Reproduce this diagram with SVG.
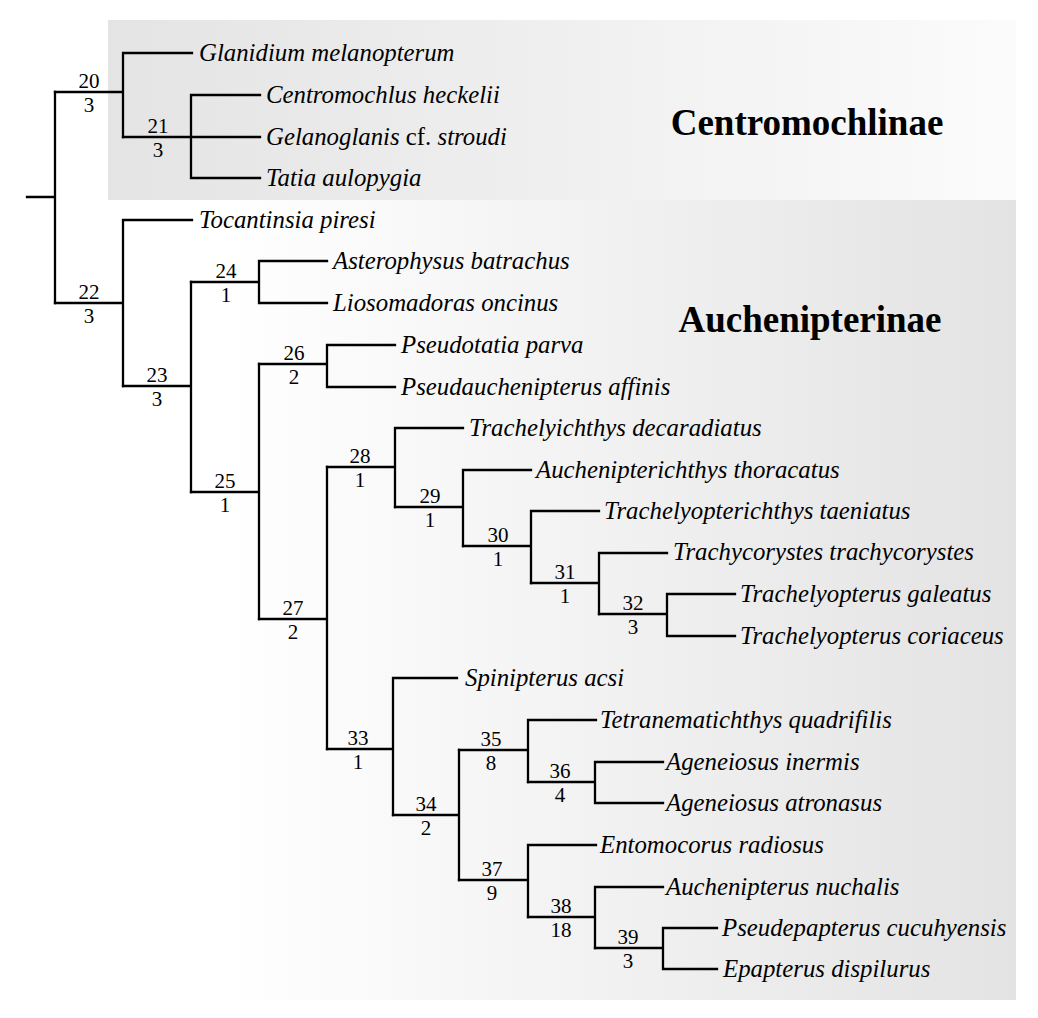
<svg xmlns="http://www.w3.org/2000/svg" width="1038" height="1018" viewBox="0 0 1038 1018">
<defs>
<linearGradient id="gTop" x1="0" y1="0" x2="1" y2="0">
<stop offset="0" stop-color="#e4e4e4"/>
<stop offset="1" stop-color="#fbfbfb"/>
</linearGradient>
<linearGradient id="gBot" x1="0" y1="0" x2="1" y2="0">
<stop offset="0" stop-color="#ffffff"/>
<stop offset="0.13" stop-color="#ffffff"/>
<stop offset="1" stop-color="#e3e3e3"/>
</linearGradient>
<style>
.br{fill:none;stroke:#000;stroke-width:2.3;stroke-linecap:square}
.leaf{font-family:"Liberation Serif","Times New Roman",serif;font-style:italic;font-size:24.8px;fill:#000}
.num{font-family:"Liberation Serif","Times New Roman",serif;font-size:21px;fill:#000;text-anchor:middle}
.clade{font-family:"Liberation Serif","Times New Roman",serif;font-weight:bold;font-size:37px;fill:#000;text-anchor:middle}
.rom{font-style:normal}
</style>
</defs>
<rect width="1038" height="1018" fill="#fff"/>
<g id="clade-centromochlinae">
<rect x="108" y="20" width="908" height="180" fill="url(#gTop)"/>
<text class="clade" x="807" y="135">Centromochlinae</text>
</g>
<g id="clade-auchenipterinae">
<rect x="108" y="200" width="908" height="800" fill="url(#gBot)"/>
<text class="clade" x="810" y="332">Auchenipterinae</text>
</g>
<g id="connectors">
<path class="br" d="M27 197H55M55 92V303"/>
<path class="br" d="M55 92H123M123 53V137M123 53H192"/>
<path class="br" d="M123 137H191M191 95V178M191 95H260M191 137H260M191 178H260"/>
<path class="br" d="M55 303H123M123 220V386M123 220H192"/>
<path class="br" d="M123 386H191M191 282V492"/>
<path class="br" d="M191 282H259M259 261V303M259 261H327M259 303H327"/>
<path class="br" d="M191 492H259M259 364V619"/>
<path class="br" d="M259 364H327M327 345V387M327 345H395M327 387H395"/>
<path class="br" d="M259 619H327M327 467V749"/>
<path class="br" d="M327 467H395M395 428V507M395 428H463"/>
<path class="br" d="M395 507H463M463 470V546M463 470H531"/>
<path class="br" d="M463 546H531M531 511V583M531 511H599"/>
<path class="br" d="M531 583H599M599 553V614M599 553H667"/>
<path class="br" d="M599 614H667M667 594V636M667 594H735M667 636H735"/>
<path class="br" d="M327 749H393M393 678V815M393 678H457"/>
<path class="br" d="M393 815H459M459 750V880"/>
<path class="br" d="M459 750H528M528 720V782M528 720H596"/>
<path class="br" d="M528 782H595M595 762V803M595 762H663M595 803H663"/>
<path class="br" d="M459 880H528M528 845V917M528 845H596"/>
<path class="br" d="M528 917H595M595 887V948M595 887H663"/>
<path class="br" d="M595 948H663M663 928V969M663 928H717M663 969H717"/>
</g>
<g id="node-20"><text class="num" x="89" y="88">20</text><text class="num" x="89" y="112">3</text></g>
<g id="node-21"><text class="num" x="158" y="133">21</text><text class="num" x="158" y="157">3</text></g>
<g id="node-22"><text class="num" x="89" y="299">22</text><text class="num" x="89" y="323">3</text></g>
<g id="node-23"><text class="num" x="157" y="382">23</text><text class="num" x="157" y="406">3</text></g>
<g id="node-24"><text class="num" x="226" y="278">24</text><text class="num" x="226" y="302">1</text></g>
<g id="node-25"><text class="num" x="225" y="488">25</text><text class="num" x="225" y="512">1</text></g>
<g id="node-26"><text class="num" x="294" y="360">26</text><text class="num" x="294" y="384">2</text></g>
<g id="node-27"><text class="num" x="293" y="615">27</text><text class="num" x="293" y="639">2</text></g>
<g id="node-28"><text class="num" x="360" y="463">28</text><text class="num" x="360" y="487">1</text></g>
<g id="node-29"><text class="num" x="430" y="503">29</text><text class="num" x="430" y="527">1</text></g>
<g id="node-30"><text class="num" x="498" y="542">30</text><text class="num" x="498" y="566">1</text></g>
<g id="node-31"><text class="num" x="565" y="579">31</text><text class="num" x="565" y="603">1</text></g>
<g id="node-32"><text class="num" x="633" y="610">32</text><text class="num" x="633" y="634">3</text></g>
<g id="node-33"><text class="num" x="358" y="745">33</text><text class="num" x="358" y="769">1</text></g>
<g id="node-34"><text class="num" x="426" y="811">34</text><text class="num" x="426" y="835">2</text></g>
<g id="node-35"><text class="num" x="491" y="746">35</text><text class="num" x="491" y="770">8</text></g>
<g id="node-36"><text class="num" x="560" y="778">36</text><text class="num" x="560" y="802">4</text></g>
<g id="node-37"><text class="num" x="492" y="876">37</text><text class="num" x="492" y="900">9</text></g>
<g id="node-38"><text class="num" x="561" y="913">38</text><text class="num" x="561" y="937">18</text></g>
<g id="node-39"><text class="num" x="628" y="944">39</text><text class="num" x="628" y="968">3</text></g>
<g id="leaf-glanidium"><text class="leaf" x="199" y="61">Glanidium melanopterum</text></g>
<g id="leaf-centromochlus"><text class="leaf" x="266" y="103">Centromochlus heckelii</text></g>
<g id="leaf-gelanoglanis"><text class="leaf" x="266" y="145">Gelanoglanis <tspan class="rom">cf.</tspan> stroudi</text></g>
<g id="leaf-tatia"><text class="leaf" x="266" y="186">Tatia aulopygia</text></g>
<g id="leaf-tocantinsia"><text class="leaf" x="199" y="228">Tocantinsia piresi</text></g>
<g id="leaf-asterophysus"><text class="leaf" x="333" y="269">Asterophysus batrachus</text></g>
<g id="leaf-liosomadoras"><text class="leaf" x="333" y="311">Liosomadoras oncinus</text></g>
<g id="leaf-pseudotatia"><text class="leaf" x="401" y="353">Pseudotatia parva</text></g>
<g id="leaf-pseudauchenipterus"><text class="leaf" x="401" y="395">Pseudauchenipterus affinis</text></g>
<g id="leaf-trachelyichthys"><text class="leaf" x="469" y="436">Trachelyichthys decaradiatus</text></g>
<g id="leaf-auchenipterichthys"><text class="leaf" x="536" y="478">Auchenipterichthys thoracatus</text></g>
<g id="leaf-trachelyopterichthys"><text class="leaf" x="604" y="519">Trachelyopterichthys taeniatus</text></g>
<g id="leaf-trachycorystes"><text class="leaf" x="673" y="560">Trachycorystes trachycorystes</text></g>
<g id="leaf-t-galeatus"><text class="leaf" x="740" y="602">Trachelyopterus galeatus</text></g>
<g id="leaf-t-coriaceus"><text class="leaf" x="740" y="644">Trachelyopterus coriaceus</text></g>
<g id="leaf-spinipterus"><text class="leaf" x="465" y="686">Spinipterus acsi</text></g>
<g id="leaf-tetranematichthys"><text class="leaf" x="600" y="728">Tetranematichthys quadrifilis</text></g>
<g id="leaf-a-inermis"><text class="leaf" x="666" y="770">Ageneiosus inermis</text></g>
<g id="leaf-a-atronasus"><text class="leaf" x="666" y="811">Ageneiosus atronasus</text></g>
<g id="leaf-entomocorus"><text class="leaf" x="600" y="853">Entomocorus radiosus</text></g>
<g id="leaf-auchenipterus"><text class="leaf" x="666" y="895">Auchenipterus nuchalis</text></g>
<g id="leaf-pseudepapterus"><text class="leaf" x="722" y="936">Pseudepapterus cucuhyensis</text></g>
<g id="leaf-epapterus"><text class="leaf" x="723" y="977">Epapterus dispilurus</text></g>
</svg>
